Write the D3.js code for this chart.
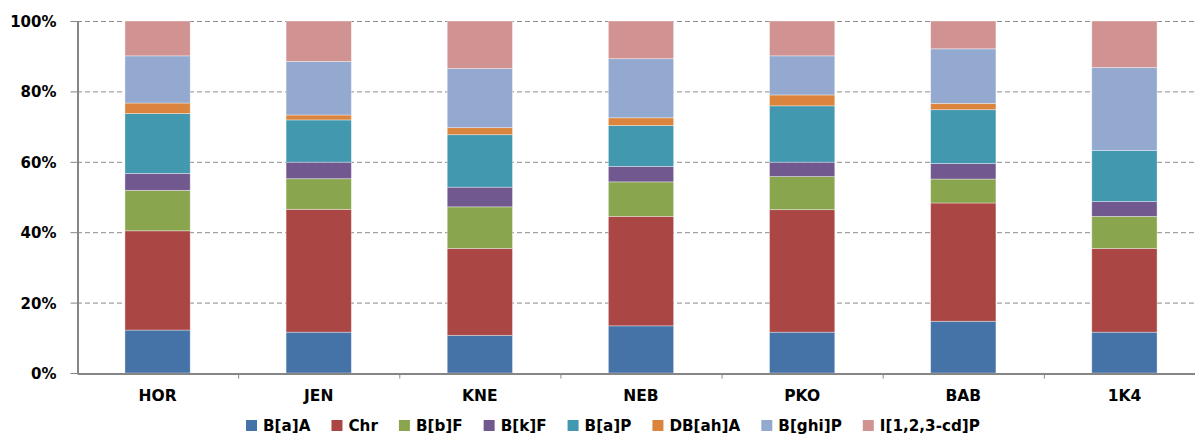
<!DOCTYPE html>
<html><head><meta charset="utf-8">
<script src="https://cdn.jsdelivr.net/npm/d3@7"></script>
<style>html,body{margin:0;padding:0;background:#fff;}svg{display:block;}</style>
</head><body>
<svg id="c" width="1195" height="435"></svg>
<script>
const categories = ["HOR","JEN","KNE","NEB","PKO","BAB","1K4"];
const seriesNames = ["B[a]A","Chr","B[b]F","B[k]F","B[a]P","DB[ah]A","B[ghi]P","I[1,2,3-cd]P"];
const BaA  = [12.2, 11.6, 10.7, 13.4, 11.6, 14.7, 11.6];
const Chr  = [28.2, 34.9, 24.7, 31.1, 34.8, 33.6, 23.8];
const BbF  = [11.5,  8.7, 11.8,  9.8,  9.4,  6.8,  9.1];
const BkF  = [ 4.8,  4.7,  5.6,  4.4,  4.1,  4.4,  4.2];
const BaP  = [17.0, 12.0, 14.9, 11.6, 16.0, 15.3, 14.5];
const DBahA= [ 3.0,  1.4,  2.0,  2.2,  3.1,  1.8,  0.0];
const Bghi = [13.4, 15.2, 16.8, 16.8, 11.1, 15.5, 23.6];
const IcdP = [ 9.9, 11.5, 13.5, 10.7,  9.9,  7.9, 13.2];
const yTicks = [0, 20, 40, 60, 80, 100];
const colors = ["#4572A7","#AA4643","#89A54E","#71588F","#4198AF","#DB843D","#93A9CF","#D19392"];

const seriesVals = [BaA, Chr, BbF, BkF, BaP, DBahA, Bghi, IcdP];
const rows = categories.map((c, i) => {
  const r = {cat: c};
  seriesNames.forEach((s, j) => r[s] = seriesVals[j][i]);
  return r;
});
const stacked = d3.stack().keys(seriesNames).offset(d3.stackOffsetExpand)(rows);

const svg = d3.select("#c");
const mLeft = 77, mRight = 1205, mTop = 21, mBottom = 373;
const x = d3.scaleBand().domain(categories).range([mLeft, mRight]).paddingInner(0).paddingOuter(0);
const y = d3.scaleLinear().domain([0, 1]).range([mBottom, mTop]);
const barW = x.bandwidth() * 0.405;
const font = "'DejaVu Sans', Verdana, sans-serif";

// gridlines
svg.append("g").selectAll("line").data(yTicks.filter(t => t > 0)).join("line")
  .attr("x1", mLeft).attr("x2", 1195)
  .attr("y1", d => y(d / 100) + 0.5).attr("y2", d => y(d / 100) + 0.5)
  .attr("stroke", "#8c8c8c").attr("stroke-width", 1).attr("stroke-dasharray", "5,3");

// bars
svg.append("g").selectAll("g").data(stacked).join("g")
  .attr("fill", (d, i) => colors[i])
  .selectAll("rect").data(d => d).join("rect")
  .attr("x", d => x.bandwidth() / 2 + x(d.data.cat) - barW / 2)
  .attr("width", barW)
  .attr("y", d => y(d[1]))
  .attr("height", d => Math.max(0, y(d[0]) - y(d[1])))
  .attr("stroke", "rgba(255,255,255,0.45)").attr("stroke-width", 0.8);

// y axis
const yAxis = d3.axisLeft(y).tickValues(yTicks.map(t => t / 100)).tickFormat(d => Math.round(d * 100) + "%").tickSize(7).tickSizeOuter(0);
const gy = svg.append("g").attr("transform", `translate(${mLeft + 0.5},0)`).call(yAxis);
gy.select(".domain").attr("stroke", "#868686").attr("stroke-width", 2);
gy.selectAll(".tick line").attr("stroke", "#868686");
gy.selectAll(".tick text").attr("x", -21).attr("dy", "0.36em")
  .style("font-family", font).style("font-weight", "bold").style("font-size", "15px").attr("fill", "#000");

// x axis
const xAxis = d3.axisBottom(x).tickSize(0).tickSizeOuter(0);
const gx = svg.append("g").attr("transform", `translate(0,${mBottom + 0.5})`).call(xAxis);
gx.select(".domain").attr("stroke", "#868686").attr("stroke-width", 2);
gx.selectAll(".tick text").attr("y", 27).attr("dy", "0")
  .style("font-family", font).style("font-weight", "bold").style("font-size", "15.5px").attr("fill", "#000");
// boundary ticks between categories
gx.append("g").selectAll("line").data(categories.slice(1)).join("line")
  .attr("x1", d => x(d) + 0.5).attr("x2", d => x(d) + 0.5)
  .attr("y1", 0).attr("y2", 5).attr("stroke", "#868686").attr("stroke-width", 1);

// legend
const lg = svg.append("g").attr("transform", "translate(0,431)");
let cx = 246;
seriesNames.forEach((s, i) => {
  const g = lg.append("g").attr("transform", `translate(${cx},0)`);
  g.append("rect").attr("x", 0).attr("y", -11).attr("width", 11).attr("height", 11).attr("fill", colors[i]);
  const t = g.append("text").attr("x", 17).attr("y", 0)
    .style("font-family", font).style("font-weight", "bold").style("font-size", "15.2px")
    .attr("fill", "#000").text(s);
  cx += 17 + t.node().getComputedTextLength() + 21;
});
</script>
</body></html>
